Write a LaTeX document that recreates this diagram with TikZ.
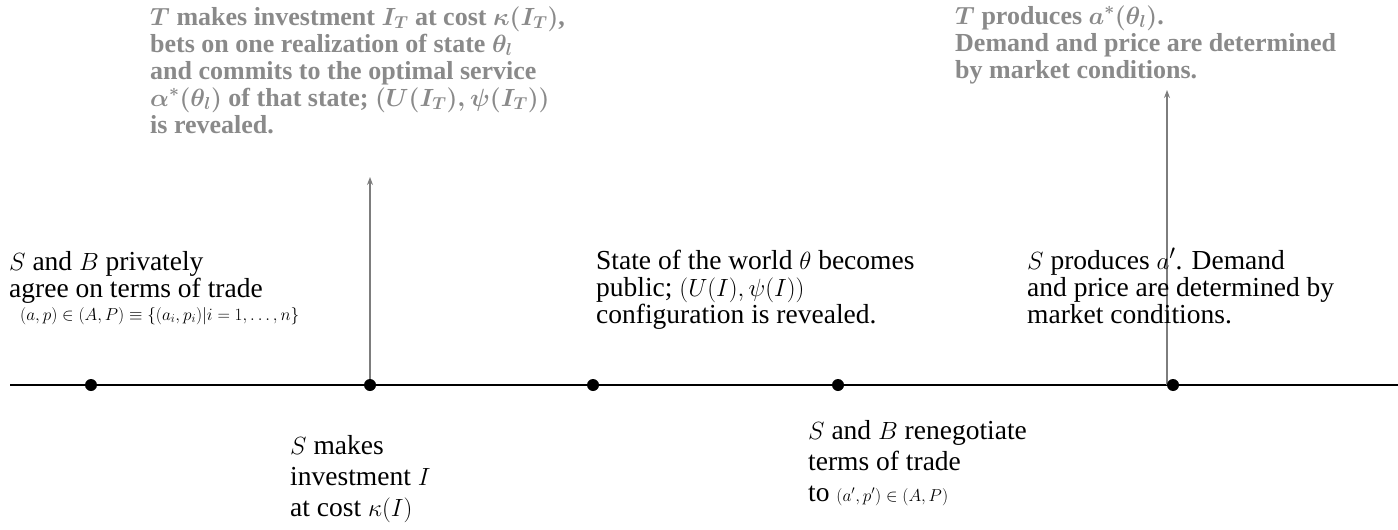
\documentclass[tikz,border=0pt]{standalone}
\usepackage{fontspec}
\setmainfont{Liberation Serif}
\usetikzlibrary{arrows.meta}
\definecolor{grayTxt}{RGB}{138,138,138}
\definecolor{arrowGray}{RGB}{125,125,125}
\begin{document}
\begin{tikzpicture}[x=1pt,y=-1pt,
  evtxt/.style={anchor=base west, inner sep=0pt, align=left, font=\fontsize{27.5}{27}\selectfont},
  bottxt/.style={anchor=base west, inner sep=0pt, align=left, font=\fontsize{27.5}{31}\selectfont},
  toptxt/.style={anchor=base west, inner sep=0pt, align=left, text=grayTxt, font=\fontsize{26}{27}\selectfont\bfseries\boldmath},
  smallmath/.style={anchor=base west, inner sep=0pt, font=\fontsize{17.5}{20}\selectfont},
  evdot/.style={circle, fill=black, inner sep=0pt, minimum size=12pt},
  timeline/.style={line width=2.5pt},
  uparrow/.style={draw=arrowGray, line width=1.2pt, -{Stealth[length=8pt,width=6pt]}}]
\useasboundingbox (0,0) rectangle (1398,530);
% timeline
\coordinate (tl0) at (10,385);
\coordinate (tl1) at (1398,385);
\draw[timeline] (tl0) -- (tl1);
% arrows
\coordinate (a1base) at (370,385);
\coordinate (a1tip) at (370,177);
\coordinate (a2base) at (1167,385);
\coordinate (a2tip) at (1167,90);
\draw[uparrow] (a1base) -- (a1tip);
\draw[uparrow] (a2base) -- (a2tip);
% dots
\node[evdot] (d1) at (91,385) {};
\node[evdot] (d2) at (370,385) {};
\node[evdot] (d3) at (593,385) {};
\node[evdot] (d4) at (838,385) {};
\node[evdot] (d5) at (1173,385) {};
% middle texts
\node[evtxt] (t1) at (9,297) {$S$ and $B$ privately\\agree on terms of trade};
\node[smallmath] (t1m) at (20,320) {$(a,p)\in(A,P)\equiv\{(a_i,p_i)|i=1,\dots,n\}$};
\node[evtxt] (t2) at (596,323) {State of the world $\theta$ becomes\\public; $(U(I),\psi(I))$\\configuration is revealed.};
\node[evtxt] (t3) at (1027,323) {$S$ produces $a'$. Demand\\and price are determined by\\market conditions.};
% bottom texts
\node[bottxt] (t4) at (290,516) {$S$ makes\\investment $I$\\at cost $\kappa(I)$};
\node[bottxt] (t5) at (808,501) {$S$ and $B$ renegotiate\\terms of trade\\to {\fontsize{17.5}{20}\selectfont $(a',p')\in(A,P)$}};
% top texts
\node[toptxt] (t6) at (150,133) {$T$ makes investment $I_T$ at cost $\kappa(I_T)$,\\bets on one realization of state $\theta_l$\\and commits to the optimal service\\$\alpha^*(\theta_l)$ of that state; $(U(I_T),\psi(I_T))$\\is revealed.};
\node[toptxt] (t7) at (955,78) {$T$ produces $a^*(\theta_l)$.\\Demand and price are determined\\by market conditions.};
\end{tikzpicture}
\end{document}
